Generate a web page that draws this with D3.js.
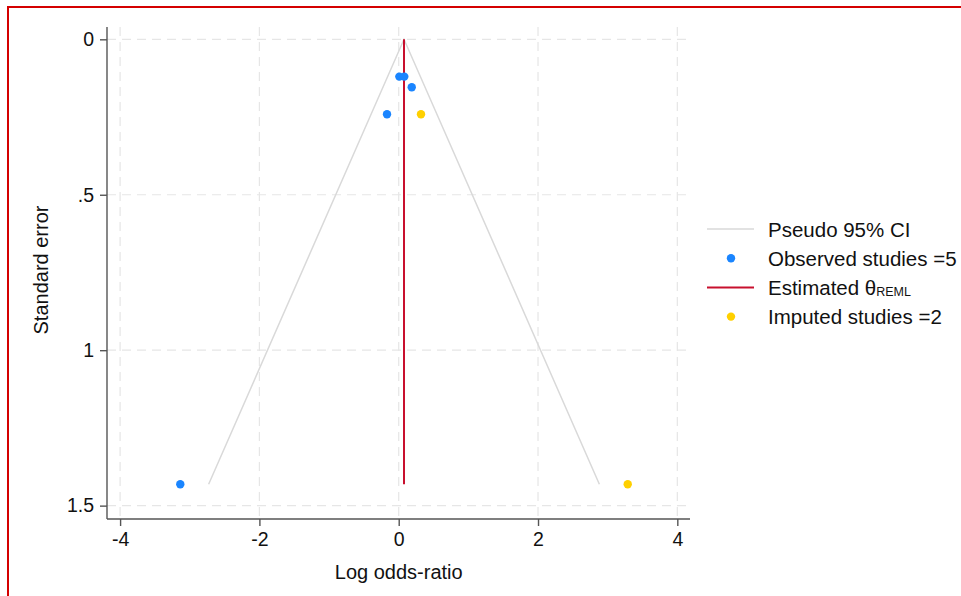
<!DOCTYPE html>
<html>
<meta charset="utf-8">
<title>funnel plot</title>
<style>
html,body{ margin:0; background:#fff; }
svg { font-family: "Liberation Sans", Arial, sans-serif; }
</style>
<script src="https://d3js.org/d3.v7.min.js"></script>
<body>
<script>

// observed studies: [log odds-ratio, standard error]
var observed = [
  [0.009, 0.120],
  [0.080, 0.120],
  [0.187, 0.154],
  [-0.168, 0.241],
  [-3.136, 1.431]
];
// imputed (trim-and-fill) studies
var imputed = [
  [0.320, 0.241],
  [3.288, 1.431]
];
var theta = 0.076;
var seMax = 1.431;
var xTicks = [-4, -2, 0, 2, 4];
var xTickLabels = ["-4", "-2", "0", "2", "4"];
var yTicks = [0, 0.5, 1, 1.5];
var yTickLabels = ["0", ".5", "1", "1.5"];
var legendItems = ["Pseudo 95% CI", "Observed studies =5", "Estimated θ", "Imputed studies =2"];

var width = 961, height = 596;

var svg = d3.select("body").append("svg")
    .attr("width", width)
    .attr("height", height);

// red frame (only top and left visible)
svg.append("rect")
    .attr("x", 8).attr("y", 7)
    .attr("width", 1000).attr("height", 700)
    .attr("fill", "none")
    .attr("stroke", "#d40000")
    .attr("stroke-width", 2);

var x = d3.scaleLinear().domain([-4.188, 4.182]).range([107, 690]);
var y = d3.scaleLinear().domain([-0.0396, 1.543]).range([27, 519]);

// grid
var grid = svg.append("g").attr("stroke", "#e6e6e6").attr("stroke-width", 1.2)
    .attr("stroke-dasharray", "9,6");
grid.selectAll("line.v").data(xTicks).enter().append("line")
    .attr("x1", d => x(d)).attr("x2", d => x(d))
    .attr("y1", y.range()[0]).attr("y2", y.range()[1]);
grid.selectAll("line.h").data(yTicks).enter().append("line")
    .attr("y1", d => y(d)).attr("y2", d => y(d))
    .attr("x1", x.range()[0]).attr("x2", x.range()[1]);

// axes
var xAxis = d3.axisBottom(x).tickValues(xTicks).tickSize(7).tickPadding(6)
    .tickFormat((d, i) => xTickLabels[i]);
var yAxis = d3.axisLeft(y).tickValues(yTicks).tickSize(7).tickPadding(6)
    .tickFormat((d, i) => yTickLabels[i]);

var gx = svg.append("g").attr("transform", "translate(0," + y.range()[1] + ")").call(xAxis);
var gy = svg.append("g").attr("transform", "translate(" + x.range()[0] + ",0)").call(yAxis);
[gx, gy].forEach(function(g) {
  g.select(".domain").attr("stroke", "#555").attr("stroke-width", 1.4);
  g.selectAll(".tick line").attr("stroke", "#555").attr("stroke-width", 1.4);
  g.selectAll(".tick text").attr("fill", "#111").style("font-size", "19.5px")
    .style("font-family", "'Liberation Sans', Arial, sans-serif");
});
gx.select(".domain").attr("d", "M" + x.range()[0] + ",0H" + x.range()[1]);
gy.select(".domain").attr("d", "M0," + y.range()[0] + "V" + y.range()[1]);

// axis titles
svg.append("text")
    .attr("x", x(0)).attr("y", 579)
    .attr("text-anchor", "middle")
    .style("font-size", "20px").attr("fill", "#111")
    .text("Log odds-ratio");
svg.append("text")
    .attr("transform", "translate(48," + 270 + ") rotate(-90)")
    .attr("text-anchor", "middle")
    .style("font-size", "20px").attr("fill", "#111")
    .text("Standard error");

// pseudo 95% CI funnel
var funnel = [[theta - 1.96 * seMax, seMax], [theta, 0], [theta + 1.96 * seMax, seMax]];
svg.append("path")
    .attr("d", d3.line().x(d => x(d[0])).y(d => y(d[1]))(funnel))
    .attr("fill", "none")
    .attr("stroke", "#d9d9d9")
    .attr("stroke-width", 1.5);

// estimated theta
svg.append("line")
    .attr("x1", x(theta)).attr("x2", x(theta))
    .attr("y1", y(0)).attr("y2", y(seMax))
    .attr("stroke", "#c8102e")
    .attr("stroke-width", 2);

svg.selectAll("circle.obs").data(observed).enter().append("circle")
    .attr("class", "obs")
    .attr("cx", d => x(d[0])).attr("cy", d => y(d[1]))
    .attr("r", 4.2).attr("fill", "#1a85ff");
svg.selectAll("circle.imp").data(imputed).enter().append("circle")
    .attr("class", "imp")
    .attr("cx", d => x(d[0])).attr("cy", d => y(d[1]))
    .attr("r", 4.2).attr("fill", "#ffd000");

// legend
var lg = svg.append("g").attr("transform", "translate(707,229)");
var rowH = 29.2;
lg.append("line").attr("x1", 0).attr("x2", 47).attr("y1", 0).attr("y2", 0)
    .attr("stroke", "#d9d9d9").attr("stroke-width", 1.5);
lg.append("circle").attr("cx", 24).attr("cy", rowH).attr("r", 4.2).attr("fill", "#1a85ff");
lg.append("line").attr("x1", 0).attr("x2", 47).attr("y1", rowH * 2).attr("y2", rowH * 2)
    .attr("stroke", "#c8102e").attr("stroke-width", 2);
lg.append("circle").attr("cx", 24).attr("cy", rowH * 3).attr("r", 4.2).attr("fill", "#ffd000");

legendItems.forEach(function(t, i) {
  var txt = lg.append("text")
      .attr("x", 61).attr("y", i * rowH + 7.5)
      .style("font-size", "20.5px").attr("fill", "#111")
      .text(t);
  if (i == 2) {
    txt.append("tspan").style("font-size", "12.5px").attr("dy", 1).text("REML");
  }
});

</script>
</body>
</html>
